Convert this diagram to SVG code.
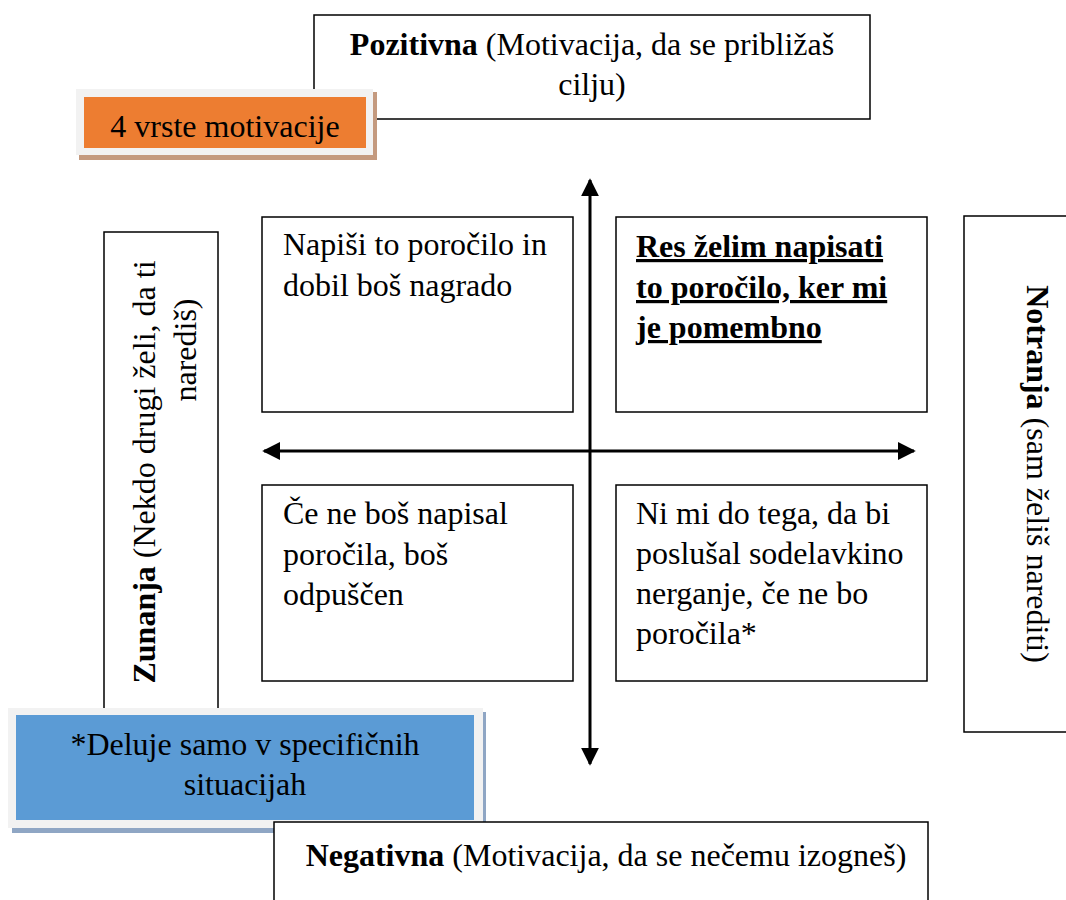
<svg xmlns="http://www.w3.org/2000/svg" width="1066" height="900" viewBox="0 0 1066 900" font-family="Liberation Serif" font-size="32">
  <defs>
    <style>
      text { fill: #000; }
      .b { font-weight: bold; }
      .box { fill: #fff; stroke: #000; stroke-width: 1.5; }
      .axis { stroke: #000; stroke-width: 3; fill: none; }
      .mid { text-anchor: middle; }
    </style>
    <marker id="head" viewBox="0 0 10 10" refX="9" refY="5" markerWidth="6" markerHeight="6" orient="auto-start-reverse" markerUnits="strokeWidth">
      <path d="M0,0 L10,5 L0,10 z" fill="#000"/>
    </marker>
  </defs>
  <rect width="1066" height="900" fill="#fff"/>

  <!-- Top label: positive motivation -->
  <g id="pozitivna">
    <rect class="box" x="314" y="15" width="556" height="104"/>
    <text class="mid" x="592" y="55" font-family="Liberation Serif"><tspan class="b">Pozitivna</tspan> (Motivacija, da se približaš</text>
    <text class="mid" x="592" y="95" font-family="Liberation Serif">cilju)</text>
  </g>

  <!-- Title badge -->
  <g id="naslov">
    <rect x="79" y="92" width="298" height="68" fill="#c49a7f"/>
    <rect x="76" y="89" width="297" height="66" fill="#f2f2f2"/>
    <rect x="84" y="97" width="282" height="51" fill="#ed7d31"/>
    <text class="mid" x="225" y="137" font-family="Liberation Serif">4 vrste motivacije</text>
  </g>

  <!-- Left label: external motivation -->
  <g id="zunanja">
    <rect class="box" x="104" y="232" width="114" height="500"/>
    <text class="mid" transform="translate(155,472) rotate(-90)" font-family="Liberation Serif"><tspan class="b">Zunanja</tspan> (Nekdo drugi želi, da ti</text>
    <text class="mid" transform="translate(196,350) rotate(-90)" font-family="Liberation Serif">narediš)</text>
  </g>

  <!-- Right label: internal motivation -->
  <g id="notranja">
    <rect class="box" x="964" y="216" width="110" height="516"/>
    <text class="mid" transform="translate(1027,474) rotate(90)" font-family="Liberation Serif"><tspan class="b">Notranja</tspan> (sam želiš narediti)</text>
  </g>

  <!-- Quadrants -->
  <g id="zunanja-pozitivna">
    <rect class="box" x="262" y="217" width="311" height="195"/>
    <text x="283" y="255" font-family="Liberation Serif">Napiši to poročilo in</text>
    <text x="283" y="296" font-family="Liberation Serif">dobil boš nagrado</text>
  </g>
  <g id="notranja-pozitivna">
    <rect class="box" x="616" y="217" width="311" height="195"/>
    <text class="b" x="636" y="257" text-decoration="underline" font-family="Liberation Serif">Res želim napisati</text>
    <text class="b" x="636" y="298" text-decoration="underline" font-family="Liberation Serif">to poročilo, ker mi</text>
    <text class="b" x="636" y="338" text-decoration="underline" font-family="Liberation Serif">je pomembno</text>
  </g>
  <g id="zunanja-negativna">
    <rect class="box" x="262" y="485" width="311" height="196"/>
    <text x="283" y="524" font-family="Liberation Serif">Če ne boš napisal</text>
    <text x="283" y="565" font-family="Liberation Serif">poročila, boš</text>
    <text x="283" y="605" font-family="Liberation Serif">odpuščen</text>
  </g>
  <g id="notranja-negativna">
    <rect class="box" x="616" y="485" width="311" height="196"/>
    <text x="636" y="524" font-family="Liberation Serif">Ni mi do tega, da bi</text>
    <text x="636" y="564" font-family="Liberation Serif">poslušal sodelavkino</text>
    <text x="636" y="604" font-family="Liberation Serif">nerganje, če ne bo</text>
    <text x="636" y="644" font-family="Liberation Serif">poročila*</text>
  </g>

  <!-- Axes -->
  <g id="osi">
    <line class="axis" x1="590" y1="764" x2="590" y2="180" marker-start="url(#head)" marker-end="url(#head)"/>
    <line class="axis" x1="264" y1="451" x2="914" y2="451" marker-start="url(#head)" marker-end="url(#head)"/>
  </g>

  <!-- Footnote badge -->
  <g id="opomba">
    <rect x="12" y="712" width="474" height="121" fill="#8fa6c4"/>
    <rect x="8" y="708" width="475" height="120" fill="#f2f2f2"/>
    <rect x="16" y="715" width="458" height="105" fill="#5b9bd5"/>
    <text class="mid" x="245" y="755" font-family="Liberation Serif">*Deluje samo v specifičnih</text>
    <text class="mid" x="245" y="795" font-family="Liberation Serif">situacijah</text>
  </g>

  <!-- Bottom label: negative motivation -->
  <g id="negativna">
    <rect class="box" x="274" y="822" width="654" height="100"/>
    <text class="mid" x="606" y="866" font-family="Liberation Serif"><tspan class="b">Negativna</tspan> (Motivacija, da se nečemu izogneš)</text>
  </g>
</svg>
